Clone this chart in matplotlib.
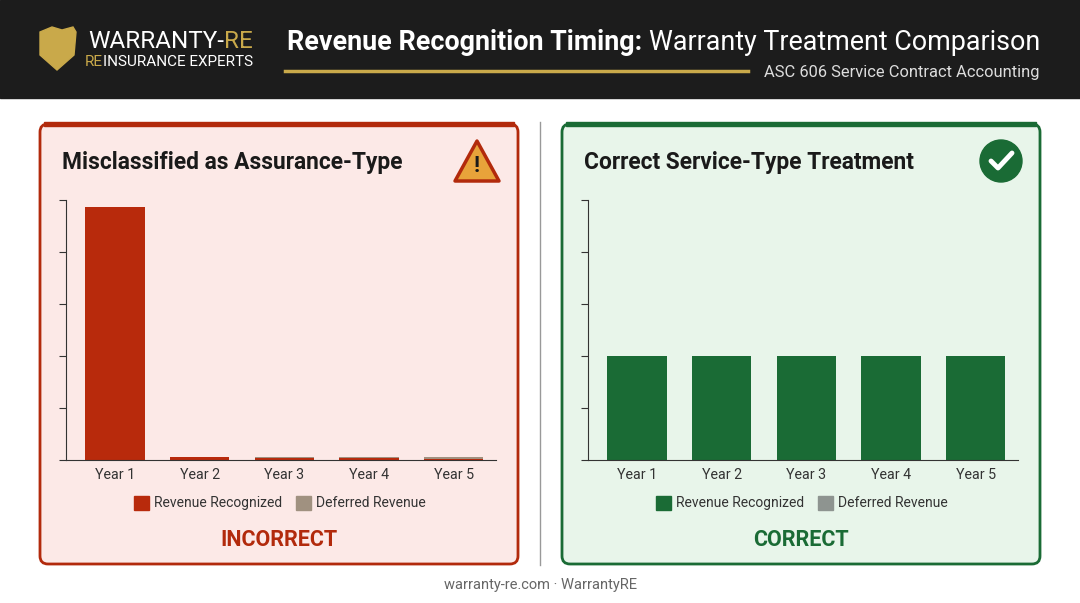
import matplotlib
matplotlib.use("Agg")
import matplotlib.pyplot as plt
from matplotlib.patches import FancyBboxPatch, Rectangle, Polygon, Circle
import numpy as np

plt.rcParams['font.family'] = ['Roboto', 'DejaVu Sans']

years = ["Year 1", "Year 2", "Year 3", "Year 4", "Year 5"]
wrong_recognized = [97.5, 1.2, 0.6, 0.6, 0.3]
wrong_deferred = [0.0, 0.0, 0.6, 0.6, 0.9]
right_recognized = [40, 40, 40, 40, 40]
right_deferred = [0, 0, 0, 0, 0]
legend_labels = ["Revenue Recognized", "Deferred Revenue"]

W, H = 1080, 603
fig = plt.figure(figsize=(W/100, H/100), dpi=100)
fig.patch.set_facecolor("white")
bg = fig.add_axes([0, 0, 1, 1]); bg.set_xlim(0, W); bg.set_ylim(H, 0); bg.axis("off")
renderer = fig.canvas.get_renderer()

def chain_left(x_right, y, parts, **kw):
    xr = x_right
    for txt, props in reversed(parts):
        t = bg.text(xr, y, txt, ha="right", va="center", **props, **kw)
        bb = t.get_window_extent(renderer)
        xr -= bb.width

# header
bg.add_patch(Rectangle((0, 0), W, 98, color="#1c1c1c"))
gold = "#c9a94a"
bg.add_patch(Polygon([[40, 32], [52, 27], [62, 30], [73, 27], [76, 32], [74, 55], [57, 70], [40, 55]], color=gold))
chain_left(253, 42, [("WARRANTY-", dict(color="white")), ("RE", dict(color=gold))], fontsize=17.5)
chain_left(253, 62, [("RE", dict(color=gold)), ("INSURANCE EXPERTS", dict(color="white"))], fontsize=11)
chain_left(1040, 42, [("Revenue Recognition Timing: ", dict(color="white", fontweight="bold")),
                      ("Warranty Treatment Comparison", dict(color="white"))], fontsize=19.4)
bg.plot([285, 748], [71, 71], color=gold, lw=2.5)
bg.text(1040, 72, "ASC 606 Service Contract Accounting", color="#dddddd", fontsize=11.9, va="center", ha="right")

bg.plot([540, 540], [122, 565], color="#999999", lw=1)
bg.text(540, 585, "warranty-re.com · WarrantyRE", color="#666666", fontsize=10.5, ha="center", va="center")

def panel(x0, edge, face, title, label, color_rec, color_def, rec, dfr, icon):
    bg.add_patch(FancyBboxPatch((x0, 124), 478, 440, boxstyle="round,pad=0,rounding_size=8",
                                facecolor=face, edgecolor=edge, lw=2))
    bg.add_patch(Rectangle((x0+4, 122), 470, 4, color=edge))
    bg.text(x0+22, 162, title, fontsize=16.4, fontweight="bold", color="#1a1a1a", va="center")
    bg.text(x0+239, 540, label, fontsize=15.5, fontweight="bold", color=edge, va="center", ha="center")
    lx = x0 + 94
    bg.add_patch(Rectangle((lx, 496), 15, 14, color=color_rec))
    bg.text(lx+20, 503, legend_labels[0], fontsize=10, color="#333333", va="center")
    bg.add_patch(Rectangle((lx+162, 496), 15, 14, color=color_def))
    bg.text(lx+182, 503, legend_labels[1], fontsize=10, color="#333333", va="center")
    if icon == "warn":
        bg.add_patch(Polygon([[477, 141], [455, 181], [499, 181]], closed=True, facecolor="#e8a33a",
                             edgecolor="#b22a0c", lw=2.5, joinstyle="round"))
        bg.text(477, 166, "!", fontsize=16, fontweight="bold", color="#1a1a1a", ha="center", va="center")
    else:
        bg.add_patch(Circle((1001, 161), 21, color="#1a6b35"))
        bg.plot([991, 998, 1012], [161, 168, 153], color="white", lw=3.5, solid_capstyle="round")
    ax = fig.add_axes([(x0+26)/W, 1-460/H, 430/W, 260/H])
    ax.set_facecolor("none")
    x = np.arange(len(years))
    ax.bar(x, rec, width=0.7, color=color_rec)
    ax.bar(x, dfr, width=0.7, bottom=rec, color=color_def)
    ax.set_ylim(0, 100); ax.set_xlim(-0.578, 4.5)
    ax.set_yticks(np.arange(0, 101, 20)); ax.set_yticklabels([])
    ax.set_xticks(x); ax.set_xticklabels(years, fontsize=10.3, color="#333333")
    ax.tick_params(axis="x", length=0, pad=6)
    ax.tick_params(axis="y", length=5, color="#333333", direction="out")
    for s in ["top", "right"]:
        ax.spines[s].set_visible(False)
    for s in ["left", "bottom"]:
        ax.spines[s].set_color("#333333")

panel(40, "#b22a0c", "#fce9e7", "Misclassified as Assurance-Type", "INCORRECT",
      "#b82a0c", "#a09180", wrong_recognized, wrong_deferred, "warn")
panel(562, "#1a6b35", "#e8f5ea", "Correct Service-Type Treatment", "CORRECT",
      "#1a6b35", "#8e9490", right_recognized, right_deferred, "ok")

fig.savefig("out.png", dpi=100)
